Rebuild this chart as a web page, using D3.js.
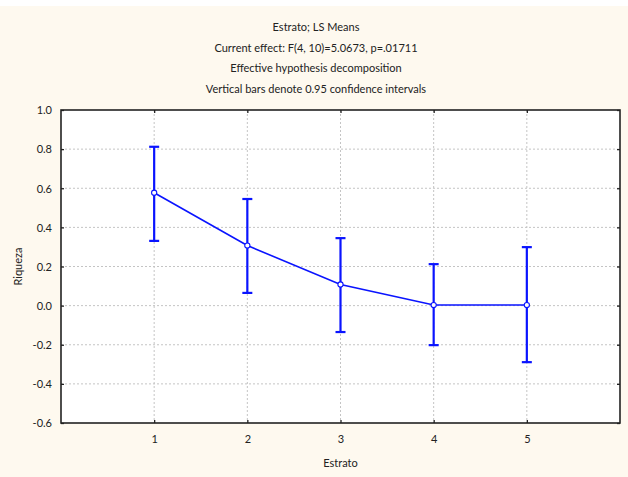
<!DOCTYPE html>
<html>
<head>
<meta charset="utf-8">
<script src="https://cdn.jsdelivr.net/npm/d3@7"></script>
<style>
  html, body { margin: 0; padding: 0; background: #fef9ef; }
  svg { display: block; }
  text { font-family: Lato, "Open Sans", sans-serif; fill: #222; }
</style>
</head>
<body>
<script>
const strata = [1, 2, 3, 4, 5];
const means = [0.577, 0.307, 0.108, 0.003, 0.003];
const upper = [0.812, 0.545, 0.345, 0.212, 0.299];
const lower = [0.331, 0.065, -0.135, -0.202, -0.289];
const yTicks = [1.0, 0.8, 0.6, 0.4, 0.2, 0.0, -0.2, -0.4, -0.6];
const titles = [
    'Estrato; LS Means',
    'Current effect: F(4, 10)=5.0673, p=.01711',
    'Effective hypothesis decomposition',
    'Vertical bars denote 0.95 confidence intervals'
];

function draw() {
    const W = 628, H = 477;
    const margin = { top: 110, right: 8, bottom: 54, left: 61 };
    const width = W - margin.left - margin.right;
    const height = H - margin.top - margin.bottom;

    const x = d3.scaleLinear().domain([0, 6]).range([0, width]);
    const y = d3.scaleLinear().domain([-0.6, 1.0]).range([height, 0]);

    const svg = d3.select('body').append('svg')
        .attr('width', W)
        .attr('height', H);

    svg.append('rect').attr('width', W).attr('height', H).attr('fill', '#fef9ef');
    svg.append('rect').attr('width', W).attr('height', 6).attr('fill', '#ffffff');

    // titles
    svg.selectAll('.title')
        .data(titles)
        .enter()
        .append('text')
        .attr('class', 'title')
        .attr('x', 316)
        .attr('y', (d, i) => 31 + i * 20.6)
        .attr('text-anchor', 'middle')
        .attr('font-size', 11)
        .text(d => d);

    const main = svg.append('g')
        .attr('transform', 'translate(' + margin.left + ',' + margin.top + ')');

    main.append('rect')
        .attr('width', width)
        .attr('height', height)
        .attr('fill', '#ffffff');

    // grid
    main.append('g')
        .selectAll('line')
        .data(yTicks.slice(1, -1))
        .enter()
        .append('line')
        .attr('x1', 0).attr('x2', width)
        .attr('y1', d => y(d)).attr('y2', d => y(d))
        .attr('stroke', '#c4c4c4')
        .attr('stroke-dasharray', '2,2');

    main.append('g')
        .selectAll('line')
        .data(strata)
        .enter()
        .append('line')
        .attr('y1', 0).attr('y2', height)
        .attr('x1', d => x(d)).attr('x2', d => x(d))
        .attr('stroke', '#c4c4c4')
        .attr('stroke-dasharray', '2,2');

    // axes with inward ticks on all sides
    const fmt = d => d.toFixed(1); // plain hyphen for negatives
    const yAxis = main.append('g')
        .call(d3.axisLeft(y).tickValues(yTicks).tickSize(-3).tickPadding(9)
            .tickFormat(fmt));
    main.append('g')
        .attr('transform', 'translate(' + width + ',0)')
        .call(d3.axisRight(y).tickValues(yTicks).tickSize(-3).tickFormat(''));
    main.append('g')
        .attr('transform', 'translate(0,' + height + ')')
        .call(d3.axisBottom(x).tickValues(strata).tickSize(-3).tickPadding(12)
            .tickFormat(d3.format('d')));
    main.append('g')
        .call(d3.axisTop(x).tickValues(strata).tickSize(-3).tickFormat(''));

    main.selectAll('.domain').remove();
    main.selectAll('.tick line').attr('stroke', '#222').attr('stroke-width', 1.3);
    main.selectAll('.tick text')
        .attr('font-size', 11)
        .attr('font-family', 'Lato, "Open Sans", sans-serif')
        .attr('fill', '#222');
    yAxis.selectAll('.tick text').attr('dy', '0.35em');

    main.append('rect')
        .attr('width', width)
        .attr('height', height)
        .attr('fill', 'none')
        .attr('stroke', '#222')
        .attr('stroke-width', 1.6);

    // axis labels
    svg.append('text')
        .attr('x', margin.left + width / 2)
        .attr('y', 467)
        .attr('text-anchor', 'middle')
        .attr('font-size', 11)
        .text('Estrato');
    svg.append('text')
        .attr('transform', 'translate(22,' + (margin.top + height / 2) + ') rotate(-90)')
        .attr('text-anchor', 'middle')
        .attr('font-size', 11)
        .text('Riqueza');

    const blue = '#0a14ff';
    const data = strata.map((s, i) => ({ s: s, m: means[i], hi: upper[i], lo: lower[i] }));

    // error bars
    const bars = main.append('g')
        .attr('stroke', blue)
        .attr('stroke-width', 2.2);
    bars.selectAll('.ci')
        .data(data)
        .enter()
        .append('line')
        .attr('x1', d => x(d.s)).attr('x2', d => x(d.s))
        .attr('y1', d => y(d.hi)).attr('y2', d => y(d.lo));
    bars.selectAll('.capHi')
        .data(data)
        .enter()
        .append('line')
        .attr('x1', d => x(d.s) - 5).attr('x2', d => x(d.s) + 5)
        .attr('y1', d => y(d.hi)).attr('y2', d => y(d.hi));
    bars.selectAll('.capLo')
        .data(data)
        .enter()
        .append('line')
        .attr('x1', d => x(d.s) - 5).attr('x2', d => x(d.s) + 5)
        .attr('y1', d => y(d.lo)).attr('y2', d => y(d.lo));

    // means line
    main.append('path')
        .datum(data)
        .attr('fill', 'none')
        .attr('stroke', blue)
        .attr('stroke-width', 1.6)
        .attr('d', d3.line().x(d => x(d.s)).y(d => y(d.m)));

    main.append('g')
        .selectAll('circle')
        .data(data)
        .enter()
        .append('circle')
        .attr('cx', d => x(d.s))
        .attr('cy', d => y(d.m))
        .attr('r', 2.6)
        .attr('fill', '#ffffff')
        .attr('stroke', blue)
        .attr('stroke-width', 1.1);
}

document.addEventListener('DOMContentLoaded', () => draw());
</script>
</body>
</html>
